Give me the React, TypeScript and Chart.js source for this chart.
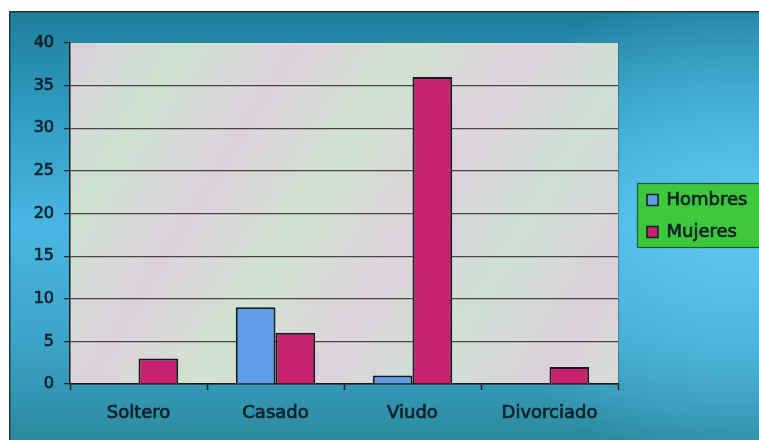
import React, { useEffect, useRef } from "react";
import { Chart, registerables } from "chart.js";

Chart.register(...registerables);

const categories = ["Soltero", "Casado", "Viudo", "Divorciado"];
const hombres = [null, 9, 1, null];
const mujeres = [3, 6, 36, 2];
const seriesNames = ["Hombres", "Mujeres"];
const yTicks = [0, 5, 10, 15, 20, 25, 30, 35, 40];

const FONT = "'DejaVu Sans', sans-serif";
const TEXT = "#122028";

const backgroundPlugin = {
  id: "bgPlugin",
  beforeDraw(chart: any) {
    const { ctx, width, height, chartArea } = chart;
    ctx.save();
    const g = ctx.createLinearGradient(0, 0, 0, height);
    g.addColorStop(0, "#1f7e98");
    g.addColorStop(0.2, "#2c98bc");
    g.addColorStop(0.5, "#48b6e4");
    g.addColorStop(0.78, "#3ca2c6");
    g.addColorStop(1, "#2a8a9e");
    ctx.fillStyle = g;
    ctx.fillRect(0, 0, width, height);
    const r = ctx.createRadialGradient(width - 20, height * 0.5, 10, width - 20, height * 0.5, 260);
    r.addColorStop(0, "rgba(100,205,245,0.75)");
    r.addColorStop(1, "rgba(100,205,245,0)");
    ctx.fillStyle = r;
    ctx.fillRect(0, 0, width, height);
    ctx.fillStyle = "#1a3a48";
    ctx.fillRect(0, 0, width, 1.5);
    ctx.fillRect(0, 0, 1.5, height);
    const { left, top, right, bottom } = chartArea;
    const p = ctx.createLinearGradient(left, top, right, bottom);
    p.addColorStop(0, "#dbd0dc");
    p.addColorStop(0.15, "#cce2d0");
    p.addColorStop(0.3, "#ddd1dc");
    p.addColorStop(0.45, "#cfe3cf");
    p.addColorStop(0.6, "#ded2dc");
    p.addColorStop(0.75, "#cde0d4");
    p.addColorStop(0.9, "#dcd0da");
    p.addColorStop(1, "#d6dcd6");
    ctx.fillStyle = p;
    ctx.fillRect(left, top, right - left, bottom - top);
    ctx.strokeStyle = "rgba(90,90,90,0.6)";
    ctx.lineWidth = 1;
    ctx.beginPath();
    ctx.moveTo(right + 0.5, top);
    ctx.lineTo(right + 0.5, bottom);
    ctx.stroke();
    ctx.restore();
  },
  afterDraw(chart: any) {
    const { ctx } = chart;
    ctx.save();
    const bx = 628.5, by = 172.5, bw = 140, bh = 64;
    ctx.fillStyle = "#3cc83a";
    ctx.fillRect(bx, by, bw, bh);
    ctx.strokeStyle = "#1d5a30";
    ctx.lineWidth = 1.2;
    ctx.strokeRect(bx, by, bw, bh);
    ctx.font = `18px ${FONT}`;
    ctx.textBaseline = "middle";
    ctx.textAlign = "left";
    chart.data.datasets.forEach((ds: any, i: number) => {
      const cy = by + 16 + i * 32;
      ctx.fillStyle = ds.backgroundColor;
      ctx.fillRect(bx + 9.5, cy - 5, 11, 11);
      ctx.strokeStyle = "#10202a";
      ctx.lineWidth = 1.5;
      ctx.strokeRect(bx + 9.5, cy - 5, 11, 11);
      ctx.fillStyle = TEXT;
      ctx.strokeStyle = TEXT;
      ctx.lineWidth = 0.7;
      ctx.fillText(ds.label, bx + 29, cy + 1);
      ctx.strokeText(ds.label, bx + 29, cy + 1);
    });
    ctx.restore();
  },
};

export default function App() {
  const ref = useRef<HTMLCanvasElement | null>(null);
  useEffect(() => {
    if (!ref.current) return;
    const chart = new Chart(ref.current, {
      type: "bar",
      data: {
        labels: categories,
        datasets: [
          {
            label: seriesNames[0],
            data: hombres,
            backgroundColor: "#5f9ee6",
            borderColor: "#111a22",
            borderWidth: 2,
            categoryPercentage: 0.58,
            barPercentage: 1,
          },
          {
            label: seriesNames[1],
            data: mujeres,
            backgroundColor: "#c8226e",
            borderColor: "#111a22",
            borderWidth: 2,
            categoryPercentage: 0.58,
            barPercentage: 1,
          },
        ],
      },
      options: {
        animation: false,
        responsive: true,
        maintainAspectRatio: false,
        layout: { padding: { top: 32, right: 141, left: 0, bottom: 0 } },
        plugins: { legend: { display: false }, tooltip: { enabled: false } },
        scales: {
          x: {
            offset: true,
            grid: {
              offset: true,
              drawOnChartArea: false,
              tickLength: 6,
              tickColor: "#222",
              tickWidth: 1.5,
            },
            border: { color: "#1a1a1a", width: 1.5 },
            ticks: {
              color: TEXT,
              font: { family: FONT, size: 18 },
              padding: 13,
              textStrokeColor: TEXT,
              textStrokeWidth: 0.7,
            },
            afterFit: (s: any) => { s.height = 56; },
          },
          y: {
            min: 0,
            max: 40,
            afterBuildTicks: (s: any) => { s.ticks = yTicks.map((v) => ({ value: v })); },
            grid: {
              color: (c: any) => (c.tick && c.tick.value === 40 ? "transparent" : "#4a4444"),
              tickColor: "#222",
              tickLength: 6,
              lineWidth: 1.2,
            },
            border: { color: "#1a1a1a", width: 1.5 },
            ticks: {
              color: TEXT,
              font: { family: FONT, size: 16 },
              padding: 10,
              textStrokeColor: TEXT,
              textStrokeWidth: 0.7,
            },
            afterFit: (s: any) => { s.width = 61; },
          },
        },
      },
      plugins: [backgroundPlugin],
    });
    return () => chart.destroy();
  }, []);
  return (
    <div style={{ position: "absolute", left: 9, top: 11, width: 750, height: 429 }}>
      <canvas ref={ref} />
    </div>
  );
}
